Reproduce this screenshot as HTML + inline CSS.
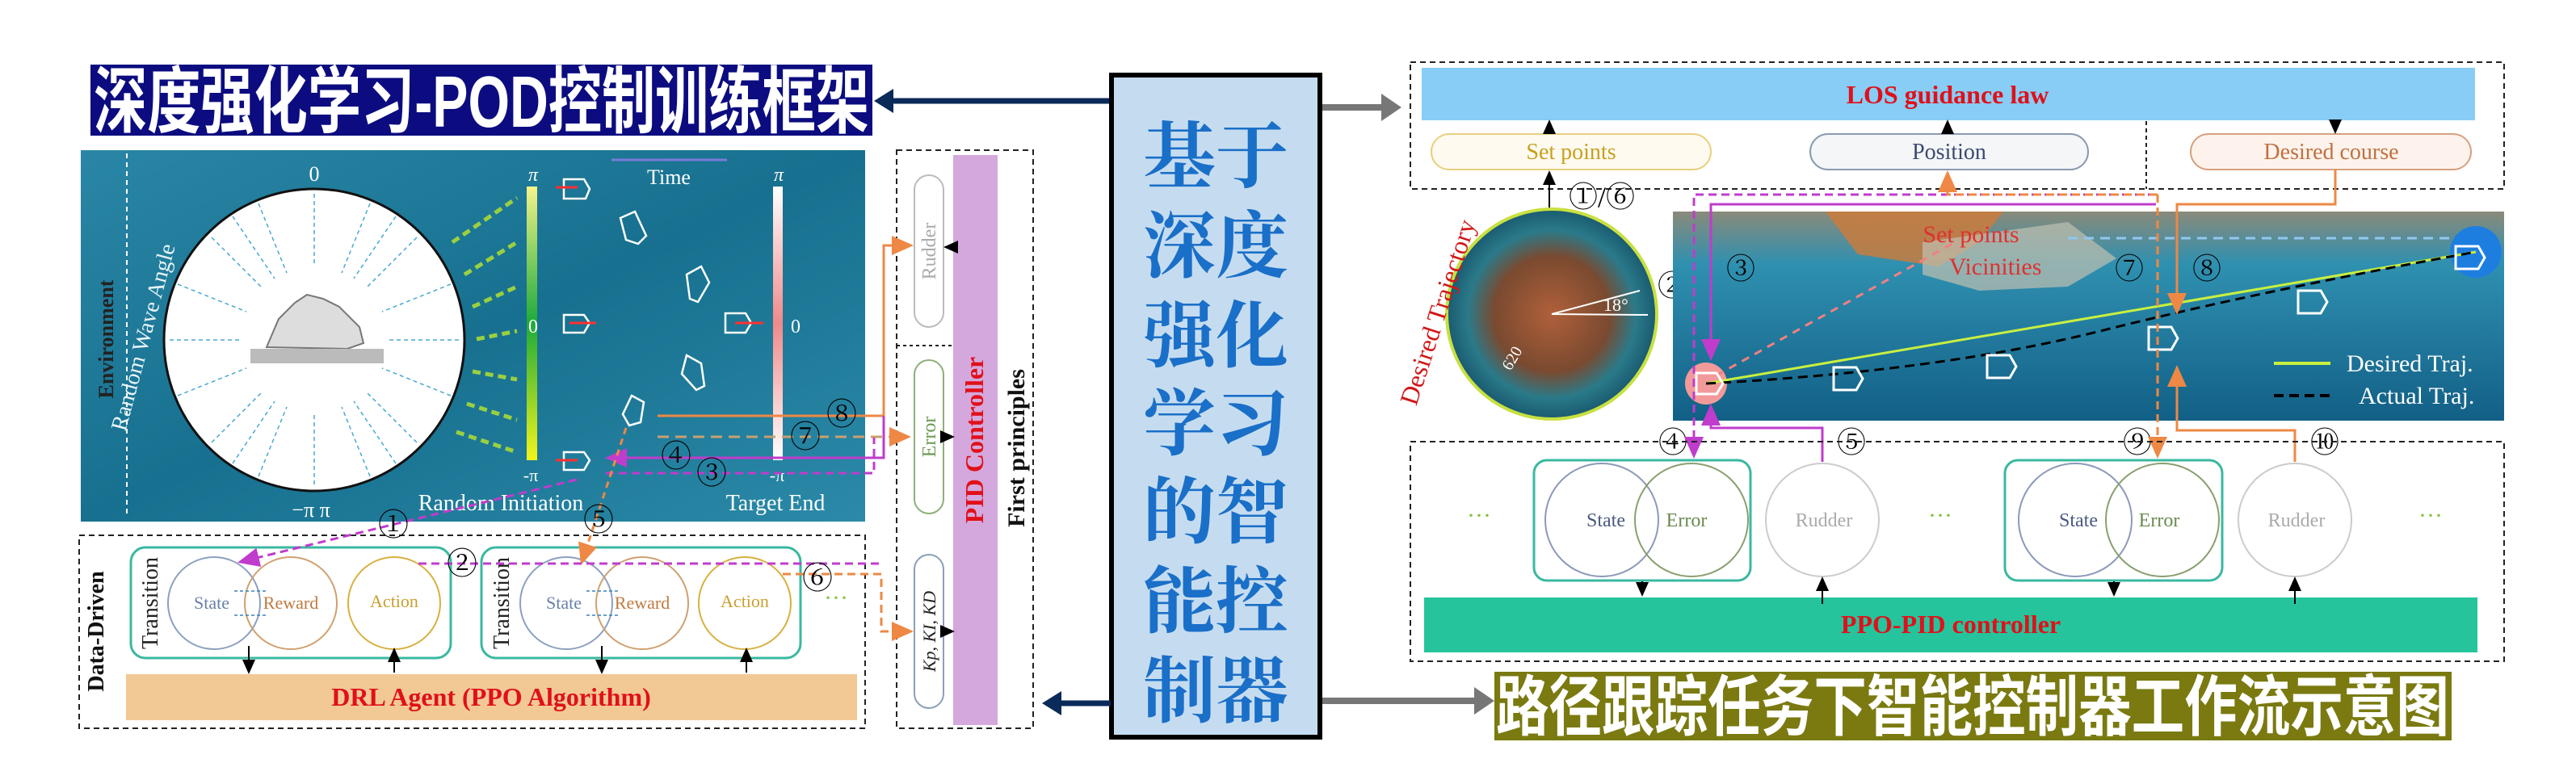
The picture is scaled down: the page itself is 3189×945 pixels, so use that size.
<!DOCTYPE html>
<html><head><meta charset="utf-8"><style>
html,body{margin:0;padding:0;background:#fff;width:3189px;height:945px;overflow:hidden}
svg{display:block}
text{font-family:"Liberation Serif","Noto Serif CJK SC",serif}
.cjk{font-family:"Liberation Sans","Noto Sans CJK SC",sans-serif;font-weight:bold}
</style></head><body>
<svg width="3189" height="945" viewBox="0 0 3189 945" xmlns="http://www.w3.org/2000/svg">
<defs>
<linearGradient id="sea" x1="0" y1="0" x2="1" y2="1">
<stop offset="0" stop-color="#2a86a6"/><stop offset="0.5" stop-color="#17708f"/><stop offset="1" stop-color="#2b8aa8"/></linearGradient>
<linearGradient id="gbar" x1="0" y1="0" x2="0" y2="1">
<stop offset="0" stop-color="#f4f48a"/><stop offset="0.5" stop-color="#1daa3a"/><stop offset="1" stop-color="#f4f41a"/></linearGradient>
<linearGradient id="pbar" x1="0" y1="0" x2="0" y2="1">
<stop offset="0" stop-color="#fff"/><stop offset="0.5" stop-color="#f08a8a"/><stop offset="1" stop-color="#fff"/></linearGradient>
<linearGradient id="sea2" x1="0" y1="0" x2="0" y2="1">
<stop offset="0" stop-color="#8a8a7a"/><stop offset="0.25" stop-color="#2f90b0"/><stop offset="1" stop-color="#125f86"/></linearGradient>
<radialGradient id="isl"><stop offset="0" stop-color="#b0603a"/><stop offset="0.55" stop-color="#7a4a30"/><stop offset="0.8" stop-color="#2a7a8a"/><stop offset="1" stop-color="#1a5a70"/></radialGradient>
<marker id="ak" markerWidth="10" markerHeight="10" refX="8" refY="5" orient="auto"><path d="M0,1 L9,5 L0,9z" fill="#000"/></marker>
<marker id="ao" markerWidth="10" markerHeight="10" refX="8" refY="5" orient="auto"><path d="M0,1 L9,5 L0,9z" fill="#ee8844"/></marker>
<marker id="am" markerWidth="10" markerHeight="10" refX="8" refY="5" orient="auto"><path d="M0,1 L9,5 L0,9z" fill="#c03ccc"/></marker>
</defs>

<rect x="112" y="80" width="968" height="88" fill="#0c0c80"/>
<text x="116" y="157" class="cjk" font-size="90" fill="#fff" textLength="960" lengthAdjust="spacingAndGlyphs">深度强化学习-POD控制训练框架</text>
<line x1="1375" y1="125" x2="1100" y2="125" stroke="#0a2a5a" stroke-width="7"/>
<path d="M1082,125 L1106,110 L1106,140z" fill="#0a2a5a"/>

<rect x="100" y="186" width="971" height="460" fill="url(#sea)"/>
<line x1="157" y1="190" x2="157" y2="640" stroke="#fff" stroke-width="2" stroke-dasharray="6,5"/>
<text transform="translate(140,420) rotate(-90)" font-size="26" font-weight="bold" text-anchor="middle" fill="#222">Environment</text>
<ellipse cx="389" cy="421" rx="186" ry="187" fill="#fff" stroke="#111" stroke-width="3"/>
<text transform="translate(186,420) rotate(-75)" font-size="28" text-anchor="middle" fill="#e8f4f8">Random Wave Angle</text>
<g stroke="#4aa8d0" stroke-width="1.5" stroke-dasharray="5,4">
<line x1="389" y1="240" x2="389" y2="330"/><line x1="389" y1="600" x2="389" y2="510"/>
<line x1="210" y1="421" x2="300" y2="421"/><line x1="568" y1="421" x2="478" y2="421"/>
<line x1="262" y1="294" x2="325" y2="357"/><line x1="516" y1="294" x2="453" y2="357"/>
<line x1="262" y1="548" x2="325" y2="485"/><line x1="516" y1="548" x2="453" y2="485"/>
<line x1="320" y1="252" x2="355" y2="338"/><line x1="458" y1="252" x2="423" y2="338"/>
<line x1="320" y1="590" x2="355" y2="504"/><line x1="458" y1="590" x2="423" y2="504"/>
<line x1="220" y1="352" x2="305" y2="386"/><line x1="558" y1="352" x2="473" y2="386"/>
<line x1="220" y1="490" x2="305" y2="456"/><line x1="558" y1="490" x2="473" y2="456"/>
<line x1="288" y1="268" x2="340" y2="345"/><line x1="490" y1="268" x2="438" y2="345"/>
<line x1="288" y1="574" x2="340" y2="497"/><line x1="490" y1="574" x2="438" y2="497"/>
</g>
<path d="M330,430 L345,395 L365,375 L380,365 L400,370 L420,380 L445,405 L450,425 L430,432 Z" fill="#ddd" stroke="#777" stroke-width="2"/>
<rect x="310" y="432" width="165" height="18" fill="#bbb"/>
<text x="389" y="224" font-size="26" fill="#fff" text-anchor="middle">0</text>
<text x="385" y="640" font-size="26" fill="#fff" text-anchor="middle">−π  π</text>
<g stroke="#9ad040" stroke-width="5" stroke-dasharray="10,6">
<line x1="560" y1="300" x2="640" y2="245"/><line x1="575" y1="340" x2="640" y2="300"/>
<line x1="585" y1="380" x2="640" y2="355"/><line x1="590" y1="420" x2="640" y2="410"/>
<line x1="585" y1="460" x2="640" y2="470"/><line x1="578" y1="500" x2="640" y2="520"/>
<line x1="565" y1="535" x2="640" y2="560"/>
</g>
<rect x="652" y="231" width="13" height="339" fill="url(#gbar)"/>
<rect x="957" y="231" width="12" height="339" fill="url(#pbar)"/>
<text x="660" y="224" font-size="24" fill="#fff" text-anchor="middle" font-style="italic">π</text>
<text x="660" y="412" font-size="24" fill="#fff" text-anchor="middle">0</text>
<text x="657" y="596" font-size="22" fill="#fff" text-anchor="middle">-π</text>
<text x="964" y="224" font-size="24" fill="#fff" text-anchor="middle" font-style="italic">π</text>
<text x="985" y="412" font-size="24" fill="#fff" text-anchor="middle">0</text>
<text x="962" y="596" font-size="22" fill="#fff" text-anchor="middle">-π</text>
<line x1="757" y1="198" x2="900" y2="198" stroke="#7a7ad8" stroke-width="3"/>
<text x="828" y="228" font-size="26" fill="#fff" text-anchor="middle">Time</text>
<text x="620" y="632" font-size="28" fill="#fff" text-anchor="middle">Random Initiation</text>
<text x="960" y="632" font-size="28" fill="#fff" text-anchor="middle">Target End</text>
<g fill="none" stroke="#fff" stroke-width="2.5">
<path d="M698,222 h25 l7,12 -5,12 h-27z"/><path d="M698,390 h25 l7,10 -7,12 h-25z"/><path d="M698,560 h25 l7,10 -7,12 h-25z"/>
<path d="M898,388 h25 l7,12 -7,12 h-25z"/>
<path d="M768,270 l18,-8 14,30 -10,10 -15,-5z"/><path d="M850,340 l18,-10 10,20 -14,24 -10,-4z"/>
<path d="M850,440 l18,10 4,28 -10,5 -18,-20z"/><path d="M782,490 l15,8 -4,25 -14,4 -8,-14z"/>
</g>
<g stroke="#ff3030" stroke-width="3"><line x1="688" y1="232" x2="715" y2="232"/><line x1="705" y1="400" x2="738" y2="400"/><line x1="688" y1="570" x2="715" y2="570"/><line x1="910" y1="400" x2="945" y2="400"/></g>

<rect x="1110" y="186" width="169" height="716" fill="#fff" stroke="#222" stroke-width="2" stroke-dasharray="7,5"/>
<line x1="1110" y1="428" x2="1180" y2="428" stroke="#222" stroke-width="2" stroke-dasharray="4,4"/>
<rect x="1180" y="192" width="55" height="706" fill="#d4a8dc"/>
<rect x="1132" y="217" width="36" height="188" rx="18" fill="#fff" stroke="#bbb" stroke-width="2"/>
<rect x="1132" y="446" width="36" height="190" rx="18" fill="#fff" stroke="#8cb07a" stroke-width="2"/>
<rect x="1132" y="687" width="36" height="190" rx="18" fill="#fff" stroke="#8aa0b8" stroke-width="2"/>
<text transform="translate(1158,311) rotate(-90)" font-size="24" fill="#aaa" text-anchor="middle">Rudder</text>
<text transform="translate(1158,541) rotate(-90)" font-size="24" fill="#6a9a50" text-anchor="middle">Error</text>
<text transform="translate(1158,782) rotate(-90)" font-size="22" font-style="italic" fill="#222" text-anchor="middle">Kp, KI, KD</text>
<text transform="translate(1217,545) rotate(-90)" font-size="32" font-weight="bold" fill="#e0101a" text-anchor="middle">PID Controller</text>
<text transform="translate(1268,555) rotate(-90)" font-size="30" font-weight="bold" fill="#111" text-anchor="middle">First principles</text>
<line x1="1180" y1="306" x2="1170" y2="306" stroke="#000" stroke-width="2" marker-end="url(#ak)"/>
<line x1="1168" y1="541" x2="1180" y2="541" stroke="#000" stroke-width="2" marker-end="url(#ak)"/>
<line x1="1168" y1="782" x2="1180" y2="782" stroke="#000" stroke-width="2" marker-end="url(#ak)"/>

<rect x="98" y="663" width="973" height="239" fill="#fff" stroke="#222" stroke-width="2" stroke-dasharray="7,5"/>
<text transform="translate(128,782) rotate(-90)" font-size="28" font-weight="bold" fill="#111" text-anchor="middle">Data-Driven</text>
<rect x="156" y="835" width="905" height="57" fill="#f2c894"/>
<text x="608" y="874" font-size="32" font-weight="bold" fill="#e0101a" text-anchor="middle">DRL  Agent (PPO Algorithm)</text>
<g fill="none" stroke-width="2">
<rect x="162" y="678" width="396" height="137" rx="18" stroke="#3ab8a0" stroke-width="3"/>
<rect x="596" y="678" width="395" height="137" rx="18" stroke="#3ab8a0" stroke-width="3"/>
<circle cx="265" cy="747" r="57" stroke="#8ca0c0"/><circle cx="360" cy="747" r="57" stroke="#d0a070"/><circle cx="488" cy="747" r="57" stroke="#d8b040"/>
<circle cx="701" cy="747" r="57" stroke="#8ca0c0"/><circle cx="795" cy="747" r="57" stroke="#d0a070"/><circle cx="922" cy="747" r="57" stroke="#d8b040"/>
</g>
<g stroke="#3a80c0" stroke-width="1.5" stroke-dasharray="4,3"><line x1="290" y1="732" x2="330" y2="732"/><line x1="290" y1="762" x2="330" y2="762"/><line x1="726" y1="732" x2="766" y2="732"/><line x1="726" y1="762" x2="766" y2="762"/></g>
<text transform="translate(195,747) rotate(-90)" font-size="28" fill="#222" text-anchor="middle">Transition</text>
<text transform="translate(630,747) rotate(-90)" font-size="28" fill="#222" text-anchor="middle">Transition</text>
<g font-size="22" text-anchor="middle"><text x="262" y="754" fill="#6a80a8">State</text><text x="360" y="754" fill="#c07a40">Reward</text><text x="488" y="752" fill="#c8a030">Action</text>
<text x="698" y="754" fill="#6a80a8">State</text><text x="795" y="754" fill="#c07a40">Reward</text><text x="922" y="752" fill="#c8a030">Action</text></g>
<g stroke="#000" stroke-width="2"><line x1="308" y1="800" x2="308" y2="833" marker-end="url(#ak)"/><line x1="488" y1="833" x2="488" y2="804" marker-end="url(#ak)"/><line x1="745" y1="800" x2="745" y2="833" marker-end="url(#ak)"/><line x1="924" y1="833" x2="924" y2="804" marker-end="url(#ak)"/></g>
<text x="1020" y="750" font-size="30" fill="#8ac040">···</text>

<g fill="none" stroke-width="3">
<path d="M814,515 H1094 V304 H1128" stroke="#ee8844" marker-end="url(#ao)"/>
<path d="M814,541 H1125" stroke="#c8a070" stroke-dasharray="14,8" marker-end="url(#ao)"/>
<path d="M1094,515 V567 H752" stroke="#c03ccc" marker-end="url(#am)"/>
<path d="M750,586 H1082 V542" stroke="#c03ccc" stroke-dasharray="10,6"/>
<path d="M714,594 L297,696" stroke="#c03ccc" stroke-dasharray="10,6" marker-end="url(#am)"/>
<path d="M775,530 L720,697" stroke="#ee8844" stroke-dasharray="8,6" marker-end="url(#ao)"/>
<path d="M518,698 H1091" stroke="#c03ccc" stroke-dasharray="10,6"/>
<path d="M969,711 H1091 V782 H1128" stroke="#ee8844" stroke-dasharray="10,6" marker-end="url(#ao)"/>
</g>
<g font-size="38" text-anchor="middle" fill="#000">
<text x="487" y="663">①</text><text x="572" y="711">②</text><text x="881" y="599">③</text><text x="837" y="578">④</text>
<text x="741" y="657">⑤</text><text x="1012" y="729">⑥</text><text x="997" y="554">⑦</text><text x="1042" y="526">⑧</text></g>

<rect x="1376" y="93" width="258" height="820" fill="#c5dcf0" stroke="#000" stroke-width="6"/>
<g class="cjk" font-size="90" fill="#1a6fc8" text-anchor="middle">
<text x="1505" y="225">基于</text><text x="1505" y="336">深度</text><text x="1505" y="447">强化</text><text x="1505" y="556">学习</text><text x="1505" y="665">的智</text><text x="1505" y="776">能控</text><text x="1505" y="887">制器</text></g>
<line x1="1375" y1="871" x2="1310" y2="871" stroke="#0a2a5a" stroke-width="7"/>
<path d="M1290,871 L1314,856 L1314,886z" fill="#0a2a5a"/>
<line x1="1637" y1="133" x2="1715" y2="133" stroke="#777" stroke-width="8"/>
<path d="M1735,133 L1710,116 L1710,150z" fill="#777"/>
<line x1="1637" y1="868" x2="1830" y2="868" stroke="#777" stroke-width="8"/>
<path d="M1850,868 L1825,851 L1825,885z" fill="#777"/>

<rect x="1746" y="77" width="1354" height="157" fill="#fff" stroke="#222" stroke-width="2" stroke-dasharray="7,5"/>
<rect x="1760" y="84" width="1304" height="65" fill="#87cdf5"/>
<text x="2411" y="128" font-size="32" font-weight="bold" fill="#e0101a" text-anchor="middle">LOS guidance law</text>
<line x1="2657" y1="150" x2="2657" y2="234" stroke="#222" stroke-width="2" stroke-dasharray="5,4"/>
<rect x="1772" y="166" width="346" height="44" rx="22" fill="#fffaf0" stroke="#e8d080" stroke-width="2"/>
<rect x="2241" y="166" width="344" height="44" rx="22" fill="#f4f6f8" stroke="#8a9ab0" stroke-width="2"/>
<rect x="2712" y="166" width="347" height="44" rx="22" fill="#fdf3ec" stroke="#d8a080" stroke-width="2"/>
<g font-size="28" text-anchor="middle"><text x="1945" y="197" fill="#c8a020">Set  points</text><text x="2413" y="197" fill="#3a4a70">Position</text><text x="2886" y="197" fill="#c07040">Desired  course</text></g>
<g stroke="#000" stroke-width="2"><line x1="1918" y1="164" x2="1918" y2="150" marker-end="url(#ak)"/><line x1="2411" y1="164" x2="2411" y2="150" marker-end="url(#ak)"/><line x1="2891" y1="150" x2="2891" y2="164" marker-end="url(#ak)"/><line x1="1918" y1="262" x2="1918" y2="213" marker-end="url(#ak)"/></g>
<text x="1983" y="256" font-size="36" text-anchor="middle">①/⑥</text>

<circle cx="1921" cy="389" r="130" fill="url(#isl)" stroke="#c8e040" stroke-width="4"/>
<path d="M1921,389 L2030,360 M1921,389 L2040,390" stroke="#fff" stroke-width="2"/>
<text x="1985" y="385" font-size="22" fill="#fff">18°</text>
<text transform="translate(1870,460) rotate(-60)" font-size="20" fill="#fff">620</text>
<text transform="translate(1790,390) rotate(-72)" font-size="32" fill="#d01818" text-anchor="middle">Desired Trajectory</text>
<text x="2070" y="366" font-size="36" text-anchor="middle">②</text>

<rect x="2071" y="262" width="1029" height="259" fill="url(#sea2)"/>
<path d="M2260,262 L2480,262 L2450,300 L2400,330 L2300,315 Z" fill="#d07a38" opacity="0.8"/>
<path d="M2380,300 L2560,275 L2620,320 L2560,355 L2450,360 L2380,340Z" fill="#c0c0b0" opacity="0.7"/>
<circle cx="3065" cy="312" r="32" fill="#1e7ee0"/>
<circle cx="2112" cy="475" r="26" fill="#f29a9a"/>
<line x1="2112" y1="475" x2="3065" y2="312" stroke="#c8f040" stroke-width="3"/>
<path d="M2112,475 Q2400,460 2600,410 T3065,312" fill="none" stroke="#000" stroke-width="3" stroke-dasharray="12,7"/>
<line x1="2125" y1="465" x2="2420" y2="300" stroke="#f08080" stroke-width="3" stroke-dasharray="10,8"/>
<line x1="2560" y1="295" x2="3040" y2="295" stroke="#90c8f0" stroke-width="3" stroke-dasharray="12,8"/>
<g fill="none" stroke="#fff" stroke-width="3">
<path d="M2100,462 h25 l8,13 -8,13 h-25z"/><path d="M2270,455 h28 l8,14 -8,14 h-28z"/><path d="M2460,440 h28 l8,14 -8,14 h-28z"/>
<path d="M2660,405 h28 l8,14 -8,14 h-28z"/><path d="M2845,360 h28 l8,14 -8,14 h-28z"/><path d="M3040,305 h28 l8,14 -8,14 h-28z"/></g>
<text x="2440" y="300" font-size="30" fill="#e03030" text-anchor="middle">Set points</text>
<text x="2470" y="340" font-size="30" fill="#e03030" text-anchor="middle">Vicinities</text>
<line x1="2815" y1="450" x2="2885" y2="450" stroke="#c8f040" stroke-width="4"/>
<line x1="2815" y1="490" x2="2885" y2="490" stroke="#000" stroke-width="4" stroke-dasharray="12,7"/>
<text x="2905" y="460" font-size="30" fill="#fff">Desired Traj.</text>
<text x="2920" y="500" font-size="30" fill="#fff">Actual Traj.</text>
<g font-size="36" text-anchor="middle"><text x="2155" y="345">③</text><text x="2636" y="345">⑦</text><text x="2732" y="345">⑧</text>
<text x="2071" y="560">④</text><text x="2292" y="560">⑤</text><text x="2646" y="560">⑨</text><text x="2878" y="560">⑩</text></g>

<g fill="none" stroke-width="3">
<path d="M2669,253 H2118 V444" stroke="#c03ccc" marker-end="url(#am)"/>
<path d="M2669,241 H2097 V565" stroke="#c03ccc" stroke-dasharray="10,6" marker-end="url(#am)"/>
<path d="M2891,210 V253 H2695 V387" stroke="#ee8844" marker-end="url(#ao)"/>
<path d="M2671,241 H2411 V214" stroke="#ee8844" stroke-dasharray="10,6" marker-end="url(#ao)"/>
<path d="M2671,241 V565" stroke="#ee8844" stroke-dasharray="10,6" marker-end="url(#ao)"/>
<path d="M2256,572 V530 H2118 V503" stroke="#c03ccc" marker-end="url(#am)"/>
<path d="M2841,572 V533 H2695 V455" stroke="#ee8844" marker-end="url(#ao)"/>
</g>

<rect x="1746" y="547" width="1354" height="272" fill="none" stroke="#222" stroke-width="2" stroke-dasharray="7,5"/>
<rect x="1763" y="740" width="1304" height="68" fill="#26c49c"/>
<text x="2415" y="784" font-size="32" font-weight="bold" fill="#e0101a" text-anchor="middle">PPO-PID controller</text>
<g fill="none" stroke-width="2">
<rect x="1899" y="570" width="268" height="149" rx="16" stroke="#3ab8a0" stroke-width="3"/>
<rect x="2482" y="570" width="269" height="149" rx="16" stroke="#3ab8a0" stroke-width="3"/>
<circle cx="1983" cy="644" r="70" stroke="#8c9ab8"/><circle cx="2094" cy="644" r="70" stroke="#8aa070"/><circle cx="2256" cy="644" r="70" stroke="#ccc"/>
<circle cx="2569" cy="644" r="70" stroke="#8c9ab8"/><circle cx="2677" cy="644" r="70" stroke="#8aa070"/><circle cx="2841" cy="644" r="70" stroke="#ccc"/>
</g>
<g font-size="24" text-anchor="middle"><text x="1988" y="652" fill="#4a5a80">State</text><text x="2088" y="652" fill="#6a8a50">Error</text><text x="2258" y="652" fill="#aaa">Rudder</text>
<text x="2573" y="652" fill="#4a5a80">State</text><text x="2673" y="652" fill="#6a8a50">Error</text><text x="2843" y="652" fill="#aaa">Rudder</text></g>
<g font-size="30" fill="#8ac040" text-anchor="middle"><text x="1831" y="648">···</text><text x="2402" y="648">···</text><text x="3009" y="648">···</text></g>
<g stroke="#000" stroke-width="2"><line x1="2033" y1="720" x2="2033" y2="737" marker-end="url(#ak)"/><line x1="2256" y1="748" x2="2256" y2="716" marker-end="url(#ak)"/><line x1="2617" y1="720" x2="2617" y2="737" marker-end="url(#ak)"/><line x1="2841" y1="748" x2="2841" y2="716" marker-end="url(#ak)"/></g>

<rect x="1850" y="832" width="1185" height="85" fill="#7a7a10"/>
<text x="1852" y="904" class="cjk" font-size="82" fill="#fff" textLength="1180" lengthAdjust="spacingAndGlyphs">路径跟踪任务下智能控制器工作流示意图</text>
</svg>
</body></html>
